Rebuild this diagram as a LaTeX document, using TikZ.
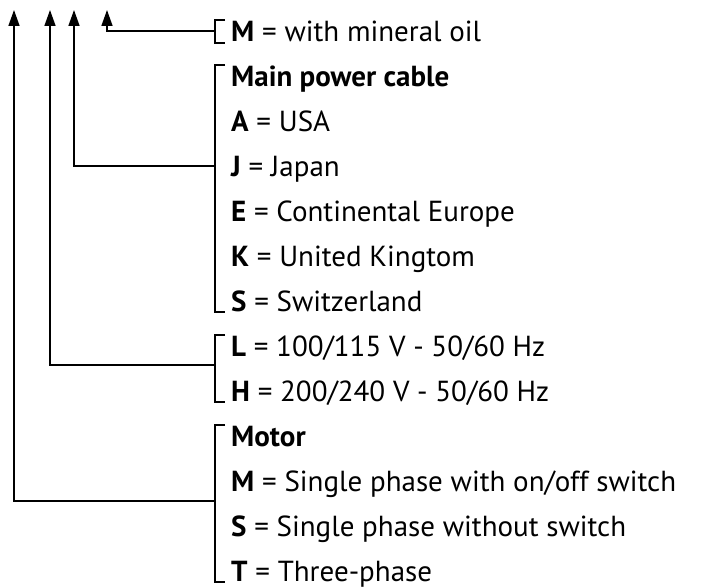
\documentclass[tikz,border=0pt]{standalone}
\usepackage{fontspec}
\setmainfont{PT Sans}
\usetikzlibrary{arrows.meta}
\begin{document}
\begin{tikzpicture}[x=1pt,y=-1pt,
  lbl/.style={anchor=base west,inner sep=0pt,font=\fontsize{29}{34}\selectfont},
  brk/.style={line width=1.4pt},
  arr/.style={line width=1.6pt,-{Triangle[width=11pt,length=16pt]}}]
\useasboundingbox (0,0) rectangle (709,588);

\node[lbl] (oil) at (231,41.5) {\textbf{M} = with mineral oil};
\node[lbl] (cable) at (231,86.5) {\textbf{Main power cable}};
\node[lbl] (usa) at (231,131.5) {\textbf{A} = USA};
\node[lbl] (japan) at (231,176.5) {\textbf{J} = Japan};
\node[lbl] (europe) at (231,221.5) {\textbf{E} = Continental Europe};
\node[lbl] (uk) at (231,266.5) {\textbf{K} = United Kingtom};
\node[lbl] (swiss) at (231,311.5) {\textbf{S} = Switzerland};
\node[lbl] (low) at (231,356.5) {\textbf{L} = 100/115 V - 50/60 Hz};
\node[lbl] (high) at (231,401.5) {\textbf{H} = 200/240 V - 50/60 Hz};
\node[lbl] (motor) at (231,446.5) {\textbf{Motor}};
\node[lbl] (single) at (231,491.5) {\textbf{M} = Single phase with on/off switch};
\node[lbl] (noswitch) at (231,536.5) {\textbf{S} = Single phase without switch};
\node[lbl] (three) at (231,581.5) {\textbf{T} = Three-phase};

\coordinate (oilT) at (215,20);
\coordinate (oilB) at (215,43);
\coordinate (cableT) at (215,65);
\coordinate (cableB) at (215,312);
\coordinate (voltT) at (215,335);
\coordinate (voltB) at (215,402);
\coordinate (motorT) at (215,425);
\coordinate (motorB) at (215,582);

\draw[brk] ([xshift=10pt]oilT) -- (oilT) -- (oilB) -- ([xshift=10pt]oilB);
\draw[brk] ([xshift=10pt]cableT) -- (cableT) -- (cableB) -- ([xshift=10pt]cableB);
\draw[brk] ([xshift=10pt]voltT) -- (voltT) -- (voltB) -- ([xshift=10pt]voltB);
\draw[brk] ([xshift=10pt]motorT) -- (motorT) -- (motorB) -- ([xshift=10pt]motorB);

\coordinate (oilJ) at (215,31);
\coordinate (cableJ) at (215,166);
\coordinate (voltJ) at (215,365);
\coordinate (motorJ) at (215,501);

\coordinate (tipA) at (14,10);
\coordinate (tipB) at (50,10);
\coordinate (tipC) at (74,10);
\coordinate (tipD) at (107,10);

\draw[arr] (oilJ) -| (tipD);
\draw[arr] (cableJ) -| (tipC);
\draw[arr] (voltJ) -| (tipB);
\draw[arr] (motorJ) -| (tipA);
\end{tikzpicture}
\end{document}
